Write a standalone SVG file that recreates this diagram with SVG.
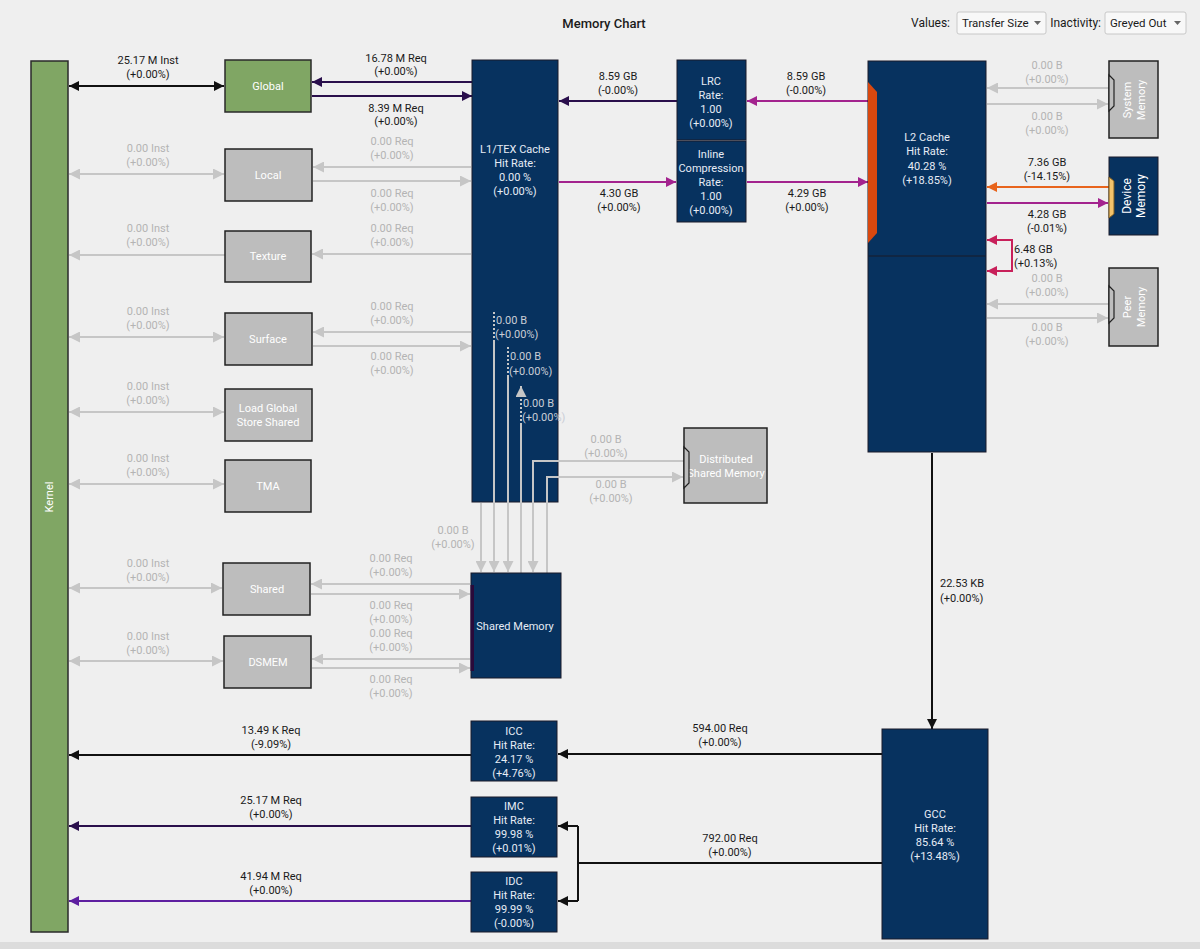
<svg xmlns="http://www.w3.org/2000/svg" width="1200" height="949" viewBox="0 0 1200 949">
<style>
text{font-family:Roboto,"Liberation Sans",Arial,sans-serif;font-size:11px;text-anchor:middle}
.lb{fill:#1a1a1a}
.gl{fill:#b4b4b4}
.gi{fill:#c9cdd6}
.wt{fill:#ffffff}
.st{fill:#e6ecf5}
.navy{fill:#07325f;stroke:#1a1a2a;stroke-width:1}
.grey{fill:#bdbdbd;stroke:#222;stroke-width:1.5}
.green{fill:#80a664;stroke:#2a2a2a;stroke-width:1.5}
.c{fill:none;stroke-width:2}
.k{stroke:#111}
.g{stroke:#c6c6c6}
.dp{stroke:#2a0f4c}
.pu{stroke:#5e1fa0}
.mg{stroke:#a3238e}
.or{stroke:#e8641c}
.cr{stroke:#c8205a}
</style>
<defs>
<marker id="mk" viewBox="0 0 10 10" refX="10" refY="5" markerWidth="10" markerHeight="10" markerUnits="userSpaceOnUse" orient="auto-start-reverse"><path d="M0,0L10,5L0,10z" fill="#111"/></marker>
<marker id="mg" viewBox="0 0 10 10" refX="10" refY="5" markerWidth="11" markerHeight="11" markerUnits="userSpaceOnUse" orient="auto-start-reverse"><path d="M0,0L10,5L0,10z" fill="#c6c6c6"/></marker>
<marker id="mdp" viewBox="0 0 10 10" refX="10" refY="5" markerWidth="10" markerHeight="10" markerUnits="userSpaceOnUse" orient="auto-start-reverse"><path d="M0,0L10,5L0,10z" fill="#2a0f4c"/></marker>
<marker id="mpu" viewBox="0 0 10 10" refX="10" refY="5" markerWidth="10" markerHeight="10" markerUnits="userSpaceOnUse" orient="auto-start-reverse"><path d="M0,0L10,5L0,10z" fill="#5e1fa0"/></marker>
<marker id="mmg" viewBox="0 0 10 10" refX="10" refY="5" markerWidth="10" markerHeight="10" markerUnits="userSpaceOnUse" orient="auto-start-reverse"><path d="M0,0L10,5L0,10z" fill="#a3238e"/></marker>
<marker id="mor" viewBox="0 0 10 10" refX="10" refY="5" markerWidth="10" markerHeight="10" markerUnits="userSpaceOnUse" orient="auto-start-reverse"><path d="M0,0L10,5L0,10z" fill="#e8641c"/></marker>
<marker id="mcr" viewBox="0 0 10 10" refX="10" refY="5" markerWidth="10" markerHeight="10" markerUnits="userSpaceOnUse" orient="auto-start-reverse"><path d="M0,0L10,5L0,10z" fill="#c8205a"/></marker>
</defs>
<rect x="0" y="0" width="1200" height="949" fill="#efefef"/>
<rect x="0" y="942" width="1200" height="7" fill="#dcdcdc"/>

<g id="header">
<text x="604" y="28" class="lb" style="font-size:13px;font-weight:500">Memory Chart</text>
<text x="950" y="27" class="lb" style="font-size:12px;text-anchor:end">Values:</text>
<rect x="957" y="12" width="89" height="22" rx="2" fill="#f8f8f8" stroke="#c8c8c8"/>
<text x="962" y="27" class="lb" style="font-size:11.5px;text-anchor:start">Transfer Size</text>
<path d="M1034,21h7l-3.5,4z" fill="#666"/>
<text x="1101" y="27" class="lb" style="font-size:12px;text-anchor:end">Inactivity:</text>
<rect x="1105" y="12" width="81" height="22" rx="2" fill="#f8f8f8" stroke="#c8c8c8"/>
<text x="1110" y="27" class="lb" style="font-size:11.5px;text-anchor:start">Greyed Out</text>
<path d="M1174,21h7l-3.5,4z" fill="#666"/>
</g>

<g id="connectors">
<path class="c k" d="M69,86H224" marker-start="url(#mk)" marker-end="url(#mk)"/>
<path class="c g" d="M69,174H224" marker-start="url(#mg)" marker-end="url(#mg)"/>
<path class="c g" d="M225,255H69" marker-end="url(#mg)"/>
<path class="c g" d="M69,337H224" marker-start="url(#mg)" marker-end="url(#mg)"/>
<path class="c g" d="M69,412H224" marker-start="url(#mg)" marker-end="url(#mg)"/>
<path class="c g" d="M69,484H224" marker-start="url(#mg)" marker-end="url(#mg)"/>
<path class="c g" d="M69,588H222" marker-start="url(#mg)" marker-end="url(#mg)"/>
<path class="c g" d="M69,661H223" marker-start="url(#mg)" marker-end="url(#mg)"/>
<path class="c dp" d="M472,82H312" marker-end="url(#mdp)"/>
<path class="c dp" d="M312,96H472" marker-end="url(#mdp)"/>
<path class="c g" d="M471,167H313" marker-end="url(#mg)"/>
<path class="c g" d="M313,181H471" marker-end="url(#mg)"/>
<path class="c g" d="M471,254H312" marker-end="url(#mg)"/>
<path class="c g" d="M471,332H313" marker-end="url(#mg)"/>
<path class="c g" d="M313,346H471" marker-end="url(#mg)"/>
<path class="c g" d="M470,584H311" marker-end="url(#mg)"/>
<path class="c g" d="M311,594H470" marker-end="url(#mg)"/>
<path class="c g" d="M470,659H312" marker-end="url(#mg)"/>
<path class="c g" d="M312,668H470" marker-end="url(#mg)"/>
<path class="c g" d="M481,503V572" marker-end="url(#mg)"/>
<path class="c g" d="M494,502V572" marker-end="url(#mg)"/>
<path class="c g" d="M508,502V572" marker-end="url(#mg)"/>
<path class="c g" d="M521,573V502"/>
<path class="c g" d="M684,461H558"/>
<path class="c g" d="M533,502V572" marker-end="url(#mg)"/>
<path class="c g" d="M547,573V502"/>
<path class="c g" d="M558,477H683" marker-end="url(#mg)"/>
<path class="c dp" d="M677,101H559" marker-end="url(#mdp)"/>
<path class="c mg" d="M868,101H747" marker-end="url(#mmg)"/>
<path class="c mg" d="M559,182H676" marker-end="url(#mmg)"/>
<path class="c mg" d="M747,182H868" marker-end="url(#mmg)"/>
<path class="c g" d="M1109,88H987" marker-end="url(#mg)"/>
<path class="c g" d="M987,104H1108" marker-end="url(#mg)"/>
<path class="c or" d="M1109,187H987" marker-end="url(#mor)"/>
<path class="c mg" d="M987,203H1108" marker-end="url(#mmg)"/>
<path class="c cr" d="M987,240H1012V271H987" marker-start="url(#mcr)" marker-end="url(#mcr)"/>
<path class="c g" d="M1109,304H987" marker-end="url(#mg)"/>
<path class="c g" d="M987,318H1108" marker-end="url(#mg)"/>
<path class="c k" d="M932,453V729" marker-end="url(#mk)"/>
<path class="c k" d="M882,754H558" marker-end="url(#mk)"/>
<path class="c k" d="M882,863H578"/>
<path class="c k" d="M578,826V901"/>
<path class="c k" d="M578,826H558" marker-end="url(#mk)"/>
<path class="c k" d="M578,901H558" marker-end="url(#mk)"/>
<path class="c k" d="M471,755H69" marker-end="url(#mk)"/>
<path class="c dp" d="M471,826H69" marker-end="url(#mdp)"/>
<path class="c pu" d="M471,901H69" marker-end="url(#mpu)"/>
</g>

<g id="labels">
<text x="148" y="64" class="lb">25.17 M Inst</text><text x="148" y="78" class="lb">(+0.00%)</text>
<text x="396" y="62" class="lb">16.78 M Req</text><text x="396" y="75" class="lb">(+0.00%)</text>
<text x="396" y="112" class="lb">8.39 M Req</text><text x="396" y="125" class="lb">(+0.00%)</text>
<text x="148" y="152" class="gl">0.00 Inst</text><text x="148" y="166" class="gl">(+0.00%)</text>
<text x="392" y="145" class="gl">0.00 Req</text><text x="392" y="159" class="gl">(+0.00%)</text>
<text x="392" y="197" class="gl">0.00 Req</text><text x="392" y="211" class="gl">(+0.00%)</text>
<text x="148" y="232" class="gl">0.00 Inst</text><text x="148" y="246" class="gl">(+0.00%)</text>
<text x="392" y="232" class="gl">0.00 Req</text><text x="392" y="246" class="gl">(+0.00%)</text>
<text x="148" y="315" class="gl">0.00 Inst</text><text x="148" y="329" class="gl">(+0.00%)</text>
<text x="392" y="310" class="gl">0.00 Req</text><text x="392" y="324" class="gl">(+0.00%)</text>
<text x="392" y="360" class="gl">0.00 Req</text><text x="392" y="374" class="gl">(+0.00%)</text>
<text x="148" y="390" class="gl">0.00 Inst</text><text x="148" y="404" class="gl">(+0.00%)</text>
<text x="148" y="462" class="gl">0.00 Inst</text><text x="148" y="476" class="gl">(+0.00%)</text>
<text x="148" y="567" class="gl">0.00 Inst</text><text x="148" y="581" class="gl">(+0.00%)</text>
<text x="148" y="640" class="gl">0.00 Inst</text><text x="148" y="654" class="gl">(+0.00%)</text>
<text x="391" y="562" class="gl">0.00 Req</text><text x="391" y="576" class="gl">(+0.00%)</text>
<text x="391" y="609" class="gl">0.00 Req</text><text x="391" y="623" class="gl">(+0.00%)</text>
<text x="391" y="637" class="gl">0.00 Req</text><text x="391" y="651" class="gl">(+0.00%)</text>
<text x="391" y="683" class="gl">0.00 Req</text><text x="391" y="697" class="gl">(+0.00%)</text>
<text x="453" y="534" class="gl">0.00 B</text><text x="453" y="548" class="gl">(+0.00%)</text>
<text x="606" y="443" class="gl">0.00 B</text><text x="606" y="457" class="gl">(+0.00%)</text>
<text x="611" y="488" class="gl">0.00 B</text><text x="611" y="502" class="gl">(+0.00%)</text>
<text x="618" y="80" class="lb">8.59 GB</text><text x="618" y="94" class="lb">(-0.00%)</text>
<text x="806" y="80" class="lb">8.59 GB</text><text x="806" y="94" class="lb">(-0.00%)</text>
<text x="619" y="197" class="lb">4.30 GB</text><text x="619" y="211" class="lb">(+0.00%)</text>
<text x="807" y="197" class="lb">4.29 GB</text><text x="807" y="211" class="lb">(+0.00%)</text>
<text x="1047" y="69" class="gl">0.00 B</text><text x="1047" y="83" class="gl">(+0.00%)</text>
<text x="1047" y="120" class="gl">0.00 B</text><text x="1047" y="134" class="gl">(+0.00%)</text>
<text x="1047" y="166" class="lb">7.36 GB</text><text x="1047" y="180" class="lb">(-14.15%)</text>
<text x="1047" y="218" class="lb">4.28 GB</text><text x="1047" y="232" class="lb">(-0.01%)</text>
<text x="1014" y="253" class="lb" style="text-anchor:start">6.48 GB</text><text x="1014" y="267" class="lb" style="text-anchor:start">(+0.13%)</text>
<text x="1047" y="282" class="gl">0.00 B</text><text x="1047" y="296" class="gl">(+0.00%)</text>
<text x="1047" y="331" class="gl">0.00 B</text><text x="1047" y="345" class="gl">(+0.00%)</text>
<text x="940" y="587" class="lb" style="text-anchor:start">22.53 KB</text><text x="940" y="602" class="lb" style="text-anchor:start">(+0.00%)</text>
<text x="720" y="732" class="lb">594.00 Req</text><text x="720" y="746" class="lb">(+0.00%)</text>
<text x="730" y="842" class="lb">792.00 Req</text><text x="730" y="856" class="lb">(+0.00%)</text>
<text x="271" y="734" class="lb">13.49 K Req</text><text x="271" y="748" class="lb">(-9.09%)</text>
<text x="271" y="804" class="lb">25.17 M Req</text><text x="271" y="818" class="lb">(+0.00%)</text>
<text x="271" y="880" class="lb">41.94 M Req</text><text x="271" y="894" class="lb">(+0.00%)</text>
</g>

<g id="kernel">
<rect x="31" y="61" width="37" height="871" class="green"/>
<text transform="translate(49,497) rotate(-90)" y="4" class="wt">Kernel</text>
</g>
<g id="global"><rect x="225" y="60" width="86" height="52" class="green"/><text x="268" y="90" class="wt">Global</text></g>
<g id="local"><rect x="225" y="149" width="87" height="52" class="grey"/><text x="268" y="179" class="wt">Local</text></g>
<g id="texture"><rect x="225" y="231" width="86" height="51" class="grey"/><text x="268" y="260" class="wt">Texture</text></g>
<g id="surface"><rect x="225" y="313" width="87" height="52" class="grey"/><text x="268" y="343" class="wt">Surface</text></g>
<g id="lgss"><rect x="225" y="389" width="87" height="52" class="grey"/><text x="268" y="412" class="wt">Load Global</text><text x="268" y="426" class="wt">Store Shared</text></g>
<g id="tma"><rect x="225" y="460" width="86" height="52" class="grey"/><text x="268" y="490" class="wt">TMA</text></g>
<g id="shared"><rect x="223" y="563" width="87" height="52" class="grey"/><text x="267" y="593" class="wt">Shared</text></g>
<g id="dsmem"><rect x="224" y="636" width="87" height="52" class="grey"/><text x="268" y="666" class="wt">DSMEM</text></g>

<g id="l1tex">
<rect x="472" y="60" width="86" height="442" class="navy"/>
<text x="515" y="153" class="st">L1/TEX Cache</text>
<text x="515" y="167" class="st">Hit Rate:</text>
<text x="515" y="181" class="st">0.00 %</text>
<text x="515" y="195" class="st">(+0.00%)</text>
</g>
<g id="l1-internal-links">
<path class="c g" d="M494,312V340" stroke-dasharray="2,2"/>
<path class="c g" d="M494,340V503"/>
<path class="c g" d="M508,347V377" stroke-dasharray="2,2"/>
<path class="c g" d="M508,377V503"/>
<path class="c g" d="M521,425V396" stroke-dasharray="2,2"/>
<path class="c g" d="M521,503V425"/>
<path class="c g" d="M521,397V386" marker-end="url(#mg)"/>
<path class="c g" d="M559,461H533V503"/>
<path class="c g" d="M547,503V477H559"/>
<text x="496" y="324" class="gi" style="text-anchor:start">0.00 B</text><text x="495" y="338" class="gi" style="text-anchor:start">(+0.00%)</text>
<text x="510" y="360" class="gi" style="text-anchor:start">0.00 B</text><text x="509" y="375" class="gi" style="text-anchor:start">(+0.00%)</text>
<text x="523" y="407" class="gi" style="text-anchor:start">0.00 B</text><text x="522" y="421" class="gi" style="text-anchor:start">(+0.00%)</text>
</g>

<g id="sharedmemory">
<rect x="471" y="573" width="90" height="105" class="navy"/>
<rect x="470.5" y="585" width="3.5" height="86" fill="#2a0a3a"/>
<text x="515" y="630" class="st">Shared Memory</text>
</g>

<g id="dsm">
<rect x="684" y="428" width="83" height="75" class="grey"/>
<text x="726" y="463" class="wt">Distributed</text>
<text x="726" y="477" class="wt">Shared Memory</text>
<path d="M684,447L689,452V483L684,488Z" fill="#bdbdbd" stroke="#222" stroke-width="1.2"/>
</g>

<g id="lrc">
<rect x="677" y="60" width="69" height="80" class="navy"/>
<text x="711" y="85" class="st">LRC</text>
<text x="711" y="99" class="st">Rate:</text>
<text x="711" y="113" class="st">1.00</text>
<text x="711" y="127" class="st">(+0.00%)</text>
</g>
<g id="inline-compression">
<rect x="677" y="141" width="69" height="81" class="navy"/>
<text x="711" y="158" class="st">Inline</text>
<text x="711" y="172" class="st">Compression</text>
<text x="711" y="186" class="st">Rate:</text>
<text x="711" y="200" class="st">1.00</text>
<text x="711" y="214" class="st">(+0.00%)</text>
</g>

<g id="l2">
<rect x="868" y="61" width="118" height="391" class="navy"/>
<line x1="868" y1="256" x2="986" y2="256" stroke="#15233a" stroke-width="1.5"/>
<path d="M868,82L877,92V233L868,243Z" fill="#d9480f"/>
<text x="927" y="141" class="st">L2 Cache</text>
<text x="927" y="155" class="st">Hit Rate:</text>
<text x="927" y="170" class="st">40.28 %</text>
<text x="927" y="184" class="st">(+18.85%)</text>
</g>

<g id="system-memory">
<rect x="1109" y="61" width="49" height="77" class="grey"/>
<path d="M1109,75L1114,80V106L1109,111Z" fill="#bdbdbd" stroke="#222" stroke-width="1.2"/>
<g transform="translate(1134,100) rotate(-90)"><text y="-3" class="wt">System</text><text y="11" class="wt">Memory</text></g>
</g>
<g id="device-memory">
<rect x="1109" y="157" width="49" height="78" class="navy"/>
<path d="M1109,177L1114,181V214L1109,218Z" fill="#f3c36b" stroke="#7a5a20" stroke-width="1"/>
<g transform="translate(1134,196) rotate(-90)"><text y="-3" class="wt" style="font-size:12px">Device</text><text y="11" class="wt" style="font-size:12px">Memory</text></g>
</g>
<g id="peer-memory">
<rect x="1109" y="268" width="49" height="78" class="grey"/>
<path d="M1109,286L1114,291V318L1109,323Z" fill="#bdbdbd" stroke="#222" stroke-width="1.2"/>
<g transform="translate(1134,307) rotate(-90)"><text y="-3" class="wt">Peer</text><text y="11" class="wt">Memory</text></g>
</g>

<g id="gcc">
<rect x="882" y="729" width="106" height="210" class="navy"/>
<text x="935" y="818" class="st">GCC</text>
<text x="935" y="832" class="st">Hit Rate:</text>
<text x="935" y="846" class="st">85.64 %</text>
<text x="935" y="860" class="st">(+13.48%)</text>
</g>
<g id="icc">
<rect x="471" y="721" width="86" height="60" class="navy"/>
<text x="514" y="735" class="st">ICC</text>
<text x="514" y="749" class="st">Hit Rate:</text>
<text x="514" y="763" class="st">24.17 %</text>
<text x="514" y="777" class="st">(+4.76%)</text>
</g>
<g id="imc">
<rect x="471" y="797" width="86" height="60" class="navy"/>
<text x="514" y="810" class="st">IMC</text>
<text x="514" y="824" class="st">Hit Rate:</text>
<text x="514" y="838" class="st">99.98 %</text>
<text x="514" y="852" class="st">(+0.01%)</text>
</g>
<g id="idc">
<rect x="471" y="872" width="86" height="60" class="navy"/>
<text x="514" y="885" class="st">IDC</text>
<text x="514" y="899" class="st">Hit Rate:</text>
<text x="514" y="913" class="st">99.99 %</text>
<text x="514" y="927" class="st">(-0.00%)</text>
</g>
</svg>
